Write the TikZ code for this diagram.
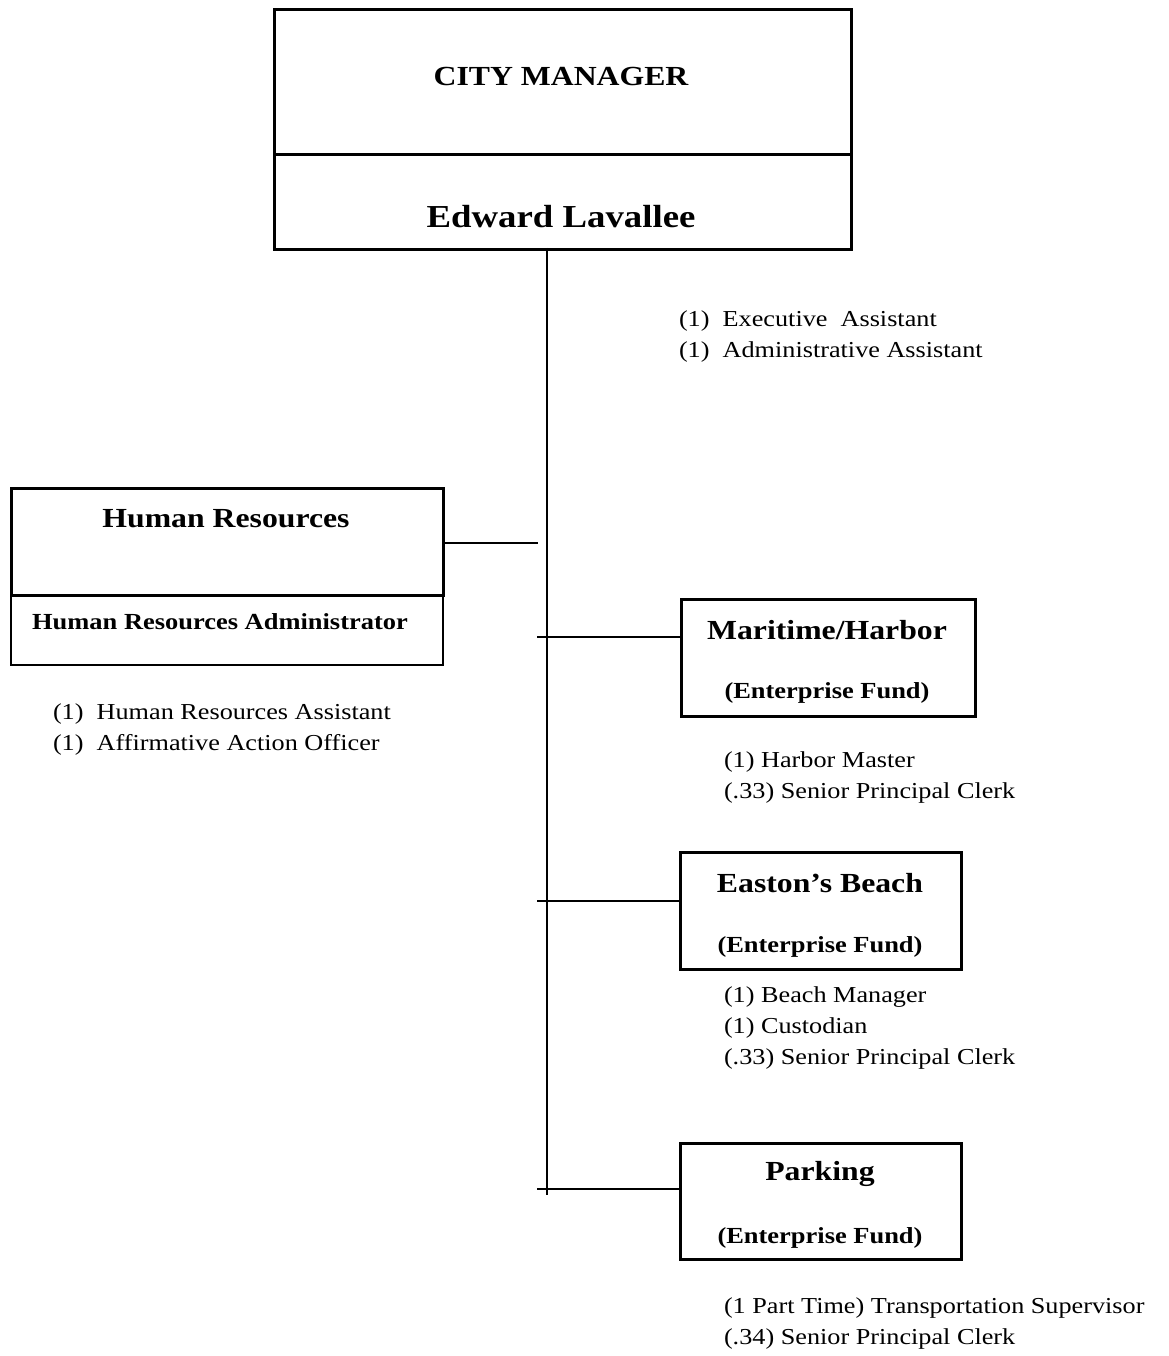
\documentclass[tikz,border=0pt]{standalone}
\usepackage{fontspec}
\setmainfont{Liberation Serif}[FakeStretch=1.15]
\usetikzlibrary{positioning}
\tikzset{
  every picture/.style={line width=2pt},
  box/.style={draw, line width=3pt, inner sep=0pt, anchor=north west},
  thinbox/.style={box, line width=1.8pt},
  head/.style={font=\bfseries\fontsize{27.6}{31}\selectfont, inner sep=0pt},
  sub/.style={font=\bfseries\fontsize{23}{27}\selectfont, inner sep=0pt},
  staff/.style={font=\fontsize{22.8}{31}\selectfont, align=left, anchor=west, inner sep=0pt},
  link/.style={line width=2pt},
}

\begin{document}
\begin{tikzpicture}[x=1pt, y=-1pt]
  \useasboundingbox (0,0) rectangle (1168,1356);
  % city manager
  \node[box, minimum width=577, minimum height=145] (cmTop) at (273,8) {};
  \node[box, minimum width=577, minimum height=95] (cmBot) at (273,153) {};
  \node[head] (cmTitle) at (561,77) {CITY MANAGER};
  \node[head, font=\bfseries\fontsize{32}{36}\selectfont] (cmName) at (561,217) {Edward Lavallee};
  \node[staff] (cmStaff) at (678,337) {(1)\ \ Executive\ \ Assistant\\(1)\ \ Administrative Assistant};
  % spine
  \coordinate (spineTop) at (547,248);
  \coordinate (spineEnd) at (547,1195);
  \draw[link] (spineTop) -- (spineEnd);
  % human resources
  \node[box, minimum width=432, minimum height=107] (hrTop) at (10,487) {};
  \node[thinbox, minimum width=432, minimum height=70] (hrBot) at (10,594) {};
  \node[head] (hrTitle) at (226,519) {Human Resources};
  \node[sub] (hrAdmin) at (220,622) {Human Resources Administrator};
  \node[staff] (hrStaff) at (52,729.5) {(1)\ \ Human Resources Assistant\\(1)\ \ Affirmative Action Officer};
  \coordinate (hrEnd) at (538,543);
  \draw[link] (hrTop.east |- hrEnd) -- (hrEnd);
  % maritime / harbor
  \node[box, minimum width=294, minimum height=117] (mar) at (680,598) {};
  \node[head] (marTitle) at (827,630) {Maritime/Harbor};
  \node[sub] (marFund) at (827,693) {(Enterprise Fund)};
  \node[staff] (marStaff) at (723,777.5) {(1) Harbor Master\\(.33) Senior Principal Clerk};
  \coordinate (marTick) at (537,637);
  \draw[link] (marTick) -- (marTick -| mar.west);
  % easton's beach
  \node[box, minimum width=281, minimum height=117] (beach) at (679,851) {};
  \node[head] (beachTitle) at (820,883) {Easton’s Beach};
  \node[sub] (beachFund) at (820,947) {(Enterprise Fund)};
  \node[staff] (beachStaff) at (723,1028) {(1) Beach Manager\\(1) Custodian\\(.33) Senior Principal Clerk};
  \coordinate (beachTick) at (537,901);
  \draw[link] (beachTick) -- (beachTick -| beach.west);
  % parking
  \node[box, minimum width=281, minimum height=116] (park) at (679,1142) {};
  \node[head] (parkTitle) at (820,1174) {Parking};
  \node[sub] (parkFund) at (820,1238) {(Enterprise Fund)};
  \node[staff] (parkStaff) at (723,1323.5) {(1 Part Time) Transportation Supervisor\\(.34) Senior Principal Clerk};
  \coordinate (parkTick) at (537,1189);
  \draw[link] (parkTick) -- (parkTick -| park.west);
\end{tikzpicture}
\end{document}
